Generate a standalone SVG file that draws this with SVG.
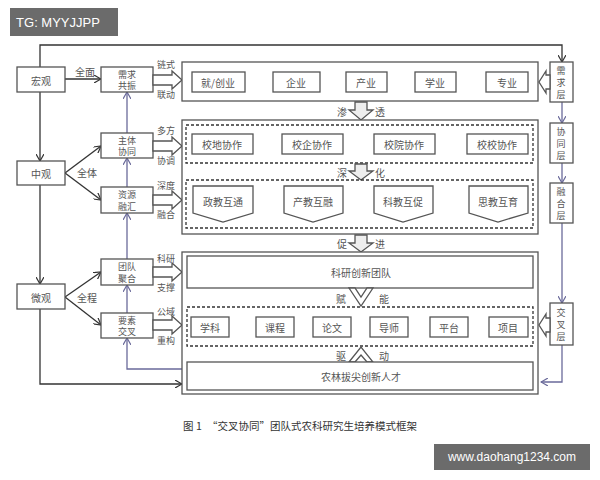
<svg xmlns="http://www.w3.org/2000/svg" width="600" height="480" viewBox="0 0 600 480">
<defs>
<marker id="a" markerWidth="8" markerHeight="8" refX="7" refY="4" orient="auto" markerUnits="userSpaceOnUse"><path d="M0,0 L7,4 L0,8" fill="none" stroke="#333" stroke-width="1.2"/></marker>
<marker id="b" markerWidth="8" markerHeight="8" refX="7" refY="4" orient="auto" markerUnits="userSpaceOnUse"><path d="M0,0 L7,4 L0,8" fill="none" stroke="#6a6a9a" stroke-width="1.2"/></marker>
<style>
rect,polygon{fill:#fff;stroke:#555;stroke-width:1.3}
.d{fill:none;stroke:#333;stroke-dasharray:3,2;stroke-width:1.3}
.c line,.c path{fill:none;stroke:#333;stroke-width:1.3}
.c .bl{stroke:#6a6a9a}
text{font-family:"Noto Sans CJK SC","Liberation Sans",sans-serif;font-size:10px;fill:#555;text-anchor:middle;dominant-baseline:central}
.s{font-size:9px}
.ga{fill:#eee}
</style>
</defs>
<rect width="600" height="480" fill="#fff" stroke="none" style="stroke:none"/>
<rect x="10" y="8" width="108" height="28" style="fill:#6b6b6b;stroke:none"/>
<text x="58" y="22" style="fill:#fff;font-family:'Liberation Sans',sans-serif;font-size:13px">TG: MYYJJPP</text>
<rect x="434" y="444" width="156" height="26" style="fill:#6b6b6b;stroke:none"/>
<text x="512" y="457" style="fill:#fff;font-family:'Liberation Sans',sans-serif;font-size:12px">www.daohang1234.com</text>

<g class="c" id="connectors">
<path d="M40,67 V45 H562 V62" marker-end="url(#a)"/>
<line x1="40" y1="92" x2="40" y2="161" marker-end="url(#a)"/>
<line x1="40" y1="185" x2="40" y2="284" marker-end="url(#a)"/>
<path d="M40,309 V384 H182" marker-end="url(#a)"/>
<line x1="65" y1="79" x2="101" y2="79" marker-end="url(#a)"/>
<line x1="65" y1="173" x2="101" y2="146" marker-end="url(#a)"/>
<line x1="65" y1="173" x2="101" y2="200" marker-end="url(#a)"/>
<line x1="65" y1="297" x2="101" y2="272" marker-end="url(#a)"/>
<line x1="65" y1="297" x2="101" y2="325" marker-end="url(#a)"/>
<path class="bl" d="M182,369 H127 V338" marker-end="url(#b)"/>
<line class="bl" x1="127" y1="313" x2="127" y2="285" marker-end="url(#b)"/>
<line class="bl" x1="127" y1="259" x2="127" y2="213" marker-end="url(#b)"/>
<line class="bl" x1="127" y1="187" x2="127" y2="158" marker-end="url(#b)"/>
<line class="bl" x1="127" y1="133" x2="127" y2="92" marker-end="url(#b)"/>
<line class="bl" x1="562" y1="102" x2="562" y2="123" marker-end="url(#b)"/>
<line class="bl" x1="562" y1="163" x2="562" y2="183" marker-end="url(#b)"/>
<line class="bl" x1="562" y1="223" x2="562" y2="303" marker-end="url(#b)"/>
<path class="bl" d="M562,345 V382 H541" marker-end="url(#b)"/>
<line x1="245" y1="82" x2="273" y2="82"/><line x1="320" y1="82" x2="346" y2="82"/><line x1="387" y1="82" x2="415" y2="82"/><line x1="456" y1="82" x2="486" y2="82"/>
<line x1="253" y1="144" x2="282" y2="144"/><line x1="343" y1="144" x2="374" y2="144"/><line x1="435" y1="144" x2="467" y2="144"/>
<line x1="253" y1="202" x2="284" y2="202"/><line x1="343" y1="202" x2="374" y2="202"/><line x1="433" y1="202" x2="469" y2="202"/>
<line x1="229" y1="327" x2="256" y2="327"/><line x1="294" y1="327" x2="313" y2="327"/><line x1="351" y1="327" x2="370" y2="327"/><line x1="408" y1="327" x2="430" y2="327"/><line x1="468" y1="327" x2="489" y2="327"/>
</g>

<g id="left">
<g id="n-hg"><rect x="17" y="67" width="48" height="25"/><text x="41" y="80">宏观</text></g>
<g id="n-zg"><rect x="17" y="161" width="48" height="24"/><text x="41" y="173">中观</text></g>
<g id="n-wg"><rect x="17" y="284" width="48" height="25"/><text x="41" y="297">微观</text></g>
<text x="85" y="71">全面</text><text x="87" y="172">全体</text><text x="87" y="297">全程</text>
</g>

<g id="mid">
<g id="n1"><rect x="101" y="67" width="52" height="25"/><text class="s" x="127" y="74">需求</text><text class="s" x="127" y="85">共振</text></g>
<g id="n2"><rect x="101" y="133" width="52" height="25"/><text class="s" x="127" y="140">主体</text><text class="s" x="127" y="151">协同</text></g>
<g id="n3"><rect x="101" y="187" width="52" height="26"/><text class="s" x="127" y="194">资源</text><text class="s" x="127" y="206">融汇</text></g>
<g id="n4"><rect x="101" y="259" width="52" height="26"/><text class="s" x="127" y="266">团队</text><text class="s" x="127" y="278">聚合</text></g>
<g id="n5"><rect x="101" y="313" width="52" height="25"/><text class="s" x="127" y="320">要素</text><text class="s" x="127" y="331">交叉</text></g>
<polygon points="153,75 172,75 172,71 182,80 172,89 172,85 153,85"/>
<text class="s" x="166" y="64">链式</text><text class="s" x="166" y="94">联动</text>
<polygon points="153,141 172,141 172,137 182,146 172,155 172,151 153,151"/>
<text class="s" x="166" y="130">多方</text><text class="s" x="166" y="160">协调</text>
<polygon points="153,195 172,195 172,191 182,200 172,209 172,205 153,205"/>
<text class="s" x="166" y="185">深度</text><text class="s" x="166" y="214">融合</text>
<polygon points="153,267 172,267 172,263 182,272 172,281 172,277 153,277"/>
<text class="s" x="166" y="258">科研</text><text class="s" x="166" y="287">支撑</text>
<polygon points="153,320 172,320 172,316 182,325 172,334 172,330 153,330"/>
<text class="s" x="166" y="311">公域</text><text class="s" x="166" y="340">重构</text>
</g>

<g id="block1">
<rect x="182" y="62" width="356" height="39"/>
<g><rect x="192" y="72" width="53" height="20"/><text x="218" y="82">就/创业</text></g>
<g><rect x="273" y="72" width="47" height="20"/><text x="296" y="82">企业</text></g>
<g><rect x="346" y="72" width="41" height="20"/><text x="366" y="82">产业</text></g>
<g><rect x="415" y="72" width="41" height="20"/><text x="435" y="82">学业</text></g>
<g><rect x="486" y="72" width="42" height="20"/><text x="507" y="82">专业</text></g>
</g>
<polygon class="ga" points="355,102 367,102 367,110 373,110 361,120 349,110 355,110"/>
<text x="342" y="111">渗</text><text x="380" y="111">透</text>

<g id="block2">
<rect x="182" y="120" width="356" height="114"/>
<rect class="d" x="186" y="125" width="347" height="38"/>
<g><rect x="192" y="134" width="61" height="20"/><text x="222" y="144">校地协作</text></g>
<g><rect x="282" y="134" width="61" height="20"/><text x="312" y="144">校企协作</text></g>
<g><rect x="374" y="134" width="61" height="20"/><text x="404" y="144">校院协作</text></g>
<g><rect x="467" y="134" width="61" height="20"/><text x="497" y="144">校校协作</text></g>
<polygon class="ga" points="355,164 367,164 367,171 373,171 361,180 349,171 355,171"/>
<text x="342" y="172">深</text><text x="380" y="172">化</text>
<rect class="d" x="186" y="180" width="347" height="48"/>
<g><polygon points="193,186 253,186 253,213 223,222 193,213"/><text x="223" y="201">政教互通</text></g>
<g><polygon points="284,186 343,186 343,213 313,222 284,213"/><text x="313" y="201">产教互融</text></g>
<g><polygon points="374,186 433,186 433,213 403,222 374,213"/><text x="403" y="201">科教互促</text></g>
<g><polygon points="469,186 528,186 528,213 498,222 469,213"/><text x="498" y="201">思教互育</text></g>
</g>
<polygon class="ga" points="355,235 367,235 367,243 373,243 361,252 349,243 355,243"/>
<text x="342" y="243">促</text><text x="380" y="243">进</text>

<g id="block3">
<rect x="182" y="252" width="356" height="142"/>
<g><rect x="187" y="256" width="346" height="32"/><text x="361" y="272">科研创新团队</text></g>
<polygon points="349,288 355,288 361,297 367,288 373,288 361,306"/>
<text x="341" y="298">赋</text><text x="384" y="298">能</text>
<rect class="d" x="187" y="307" width="346" height="39"/>
<g><rect x="191" y="317" width="38" height="20"/><text x="210" y="327">学科</text></g>
<g><rect x="256" y="317" width="38" height="20"/><text x="275" y="327">课程</text></g>
<g><rect x="313" y="317" width="38" height="20"/><text x="332" y="327">论文</text></g>
<g><rect x="370" y="317" width="38" height="20"/><text x="389" y="327">导师</text></g>
<g><rect x="430" y="317" width="38" height="20"/><text x="449" y="327">平台</text></g>
<g><rect x="489" y="317" width="39" height="20"/><text x="508" y="327">项目</text></g>
<polygon points="349,362 361,347 373,362 367,362 361,355 355,362"/>
<text x="341" y="355">驱</text><text x="384" y="355">动</text>
<g><rect x="187" y="362" width="346" height="28"/><text x="361" y="376">农林拔尖创新人才</text></g>
</g>

<g id="right">
<g><rect x="550" y="62" width="23" height="40"/><text class="s" x="561" y="70">需</text><text class="s" x="561" y="82">求</text><text class="s" x="561" y="94">层</text></g>
<g><rect x="550" y="123" width="23" height="40"/><text class="s" x="561" y="131">协</text><text class="s" x="561" y="143">同</text><text class="s" x="561" y="155">层</text></g>
<g><rect x="550" y="183" width="23" height="40"/><text class="s" x="561" y="191">融</text><text class="s" x="561" y="203">合</text><text class="s" x="561" y="215">层</text></g>
<g><rect x="550" y="303" width="23" height="42"/><text class="s" x="561" y="312">交</text><text class="s" x="561" y="324">叉</text><text class="s" x="561" y="336">层</text></g>
<polygon points="550,75 546,75 546,71 539,82 546,93 546,89 550,89"/>
<polygon points="550,318 546,318 546,314 539,325 546,336 546,332 550,332"/>
</g>

<text x="300" y="425" style="font-size:10.5px;fill:#333">图 1　“交叉协同”团队式农科研究生培养模式框架</text>
</svg>
